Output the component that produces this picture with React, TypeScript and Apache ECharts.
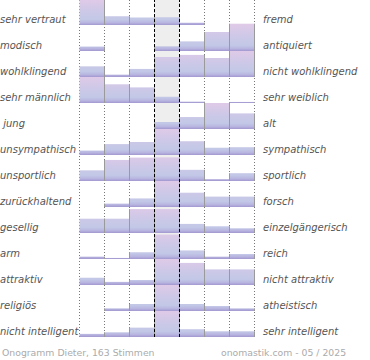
import React, { useEffect, useRef } from "react";
import * as echarts from "echarts";

// Scale positions (7-point semantic differential)
const scale = ["1", "2", "3", "4", "5", "6", "7"];

const leftLabels = [
  "sehr vertraut",
  "modisch",
  "wohlklingend",
  "sehr männlich",
  " jung",
  "unsympathisch",
  "unsportlich",
  "zurückhaltend",
  "gesellig",
  "arm",
  "attraktiv",
  "religiös",
  "nicht intelligent",
];

const rightLabels = [
  "fremd",
  "antiquiert",
  "nicht wohlklingend",
  "sehr weiblich",
  "alt",
  "sympathisch",
  "sportlich",
  "forsch",
  "einzelgängerisch",
  "reich",
  "nicht attraktiv",
  "atheistisch",
  "sehr intelligent",
];

// Relative bar heights per row (percent of the row height)
const rowVertraut = [100, 35, 30, 31, 9, 0, 0];
const rowModisch = [17, 0, 0, 18, 37, 73, 105];
const rowWohlklingend = [41, 9, 31, 77, 85, 73, 100];
const rowMaennlich = [100, 72, 60, 24, 5, 0, 4];
const rowJung = [0, 0, 0, 27, 46, 100, 60];
const rowSympathisch = [17, 42, 50, 100, 53, 28, 30];
const rowSportlich = [41, 81, 90, 91, 43, 7, 30];
const rowForsch = [0, 13, 33, 100, 55, 40, 40];
const rowGesellig = [55, 55, 92, 92, 35, 26, 18];
const rowArm = [9, 4, 26, 94, 33, 9, 19];
const rowAttraktiv = [28, 12, 19, 100, 85, 60, 60];
const rowReligioes = [0, 10, 27, 100, 27, 19, 10];
const rowIntelligent = [12, 18, 36, 100, 30, 22, 22];

const rows = [
  rowVertraut,
  rowModisch,
  rowWohlklingend,
  rowMaennlich,
  rowJung,
  rowSympathisch,
  rowSportlich,
  rowForsch,
  rowGesellig,
  rowArm,
  rowAttraktiv,
  rowReligioes,
  rowIntelligent,
];

const footerLeft = "Onogramm Dieter, 163 Stimmen";
const footerRight = "onomastik.com - 05 / 2025";

const ROW_H = 26;
const PLOT_LEFT = 79.5;
const PLOT_W = 175;
const FONT = '"DejaVu Sans", "Noto Sans", sans-serif';

export default function App() {
  const ref = useRef<HTMLDivElement>(null);

  useEffect(() => {
    if (!ref.current) return;
    const chart = echarts.init(ref.current, null, { renderer: "svg" });

    const n = rows.length;
    const grids: any[] = [];
    const xAxes: any[] = [];
    const yAxes: any[] = [];
    const series: any[] = [];
    const graphics: any[] = [];

    rows.forEach((vals, i) => {
      grids.push({
        left: PLOT_LEFT,
        width: PLOT_W,
        top: ROW_H * i - 1,
        height: ROW_H,
        containLabel: false,
      });
      xAxes.push({
        gridIndex: i,
        type: "category",
        data: scale,
        boundaryGap: true,
        z: 10,
        axisLine: {
          show: true,
          lineStyle: {
            color: "#000",
            width: 2,
            shadowColor: "rgba(0,0,0,0.35)",
            shadowOffsetY: 1.5,
            shadowOffsetX: 1,
            shadowBlur: 0.5,
          },
        },
        axisTick: { show: false },
        axisLabel: { show: false },
        splitLine: { show: false },
      });
      yAxes.push({
        gridIndex: i,
        type: "value",
        min: 0,
        max: 100,
        show: false,
        splitLine: { show: false },
      });
      series.push({
        type: "custom",
        xAxisIndex: i,
        yAxisIndex: i,
        silent: true,
        z: 2,
        data: vals.map((v, k) => [k, v]),
        renderItem: (params: any, api: any) => {
          const idx = api.value(0);
          const v = api.value(1);
          if (!v) return { type: "group", children: [] };
          const base = api.coord([idx, 0]);
          const topPt = api.coord([idx, v]);
          const w = api.size([1, 0])[0];
          const x0 = base[0] - w / 2;
          const rowTop = api.coord([idx, 100])[1];
          const rowBottom = base[1];
          const fill = new echarts.graphic.LinearGradient(
            0,
            rowTop,
            0,
            rowBottom,
            [
              { offset: 0, color: "#dfcae8" },
              { offset: 0.45, color: "#cdc8e7" },
              { offset: 0.78, color: "#c3c8e7" },
              { offset: 0.9, color: "#b9b7e1" },
              { offset: 1, color: "#a299d0" },
            ],
            true
          );
          const children: any[] = [
            {
              type: "rect",
              shape: { x: x0, y: topPt[1], width: w, height: base[1] - topPt[1] },
              style: { fill },
              z2: 1,
            },
            {
              type: "line",
              shape: { x1: x0 + w, y1: topPt[1], x2: x0 + w, y2: base[1] },
              style: { stroke: "#9a9a9a", lineWidth: 1 },
              z2: 10,
            },
          ];
          if (idx > 0) {
            children.push({
              type: "line",
              shape: { x1: x0, y1: topPt[1], x2: x0, y2: base[1] },
              style: { stroke: "#9a9a9a", lineWidth: 1 },
              z2: 10,
            });
          }
          return { type: "group", children };
        },
      });

      const baseY = ROW_H * i + 25;
      graphics.push({
        type: "text",
        x: 0,
        y: baseY - 5.3,
        z: 20,
        style: {
          text: leftLabels[i],
          font: `italic 10px ${FONT}`,
          fill: "#555",
          textAlign: "left",
          textVerticalAlign: "middle",
          align: "left",
          verticalAlign: "middle",
        },
      });
      graphics.push({
        type: "text",
        x: 263,
        y: baseY - 5.3,
        z: 20,
        style: {
          text: rightLabels[i],
          font: `italic 10px ${FONT}`,
          fill: "#555",
          textAlign: "left",
          textVerticalAlign: "middle",
          align: "left",
          verticalAlign: "middle",
        },
      });
    });

    // Background grid: scale separators, neutral column, centre markers
    grids.push({ left: PLOT_LEFT, width: PLOT_W, top: 0, height: ROW_H * n - 1 });
    xAxes.push({
      gridIndex: n,
      type: "value",
      min: 0,
      max: 7,
      interval: 1,
      axisLine: { show: false },
      axisTick: { show: false },
      axisLabel: { show: false },
      splitLine: {
        show: true,
        showMinLine: true,
        showMaxLine: true,
        lineStyle: { color: "#777", type: [1, 2], width: 1 },
      },
    });
    yAxes.push({
      gridIndex: n,
      type: "value",
      min: 0,
      max: 1,
      show: false,
      splitLine: { show: false },
    });
    series.push({
      type: "line",
      xAxisIndex: n,
      yAxisIndex: n,
      data: [],
      showSymbol: false,
      silent: true,
      markArea: {
        silent: true,
        itemStyle: { color: "#eeeeee" },
        data: [[{ xAxis: 3 }, { xAxis: 4 }]],
      },
      markLine: {
        silent: true,
        symbol: "none",
        label: { show: false },
        lineStyle: { color: "#000", type: [3, 2], width: 1 },
        data: [{ xAxis: 3 }, { xAxis: 4 }],
      },
    });

    graphics.push({
      type: "text",
      x: 2,
      y: 352,
      style: {
        text: footerLeft,
        font: `9.3px ${FONT}`,
        fill: "#ababab",
        textAlign: "left",
        textVerticalAlign: "middle",
        align: "left",
        verticalAlign: "middle",
      },
    });
    graphics.push({
      type: "text",
      x: 221,
      y: 352,
      style: {
        text: footerRight,
        font: `9.3px ${FONT}`,
        fill: "#ababab",
        textAlign: "left",
        textVerticalAlign: "middle",
        align: "left",
        verticalAlign: "middle",
      },
    });

    chart.setOption({
      animation: false,
      backgroundColor: "#ffffff",
      grid: grids,
      xAxis: xAxes,
      yAxis: yAxes,
      series,
      graphic: { elements: graphics },
    });

    return () => {
      chart.dispose();
    };
  }, []);

  return (
    <div
      ref={ref}
      style={{ position: "fixed", left: 0, top: 0, width: 370, height: 360 }}
    />
  );
}
